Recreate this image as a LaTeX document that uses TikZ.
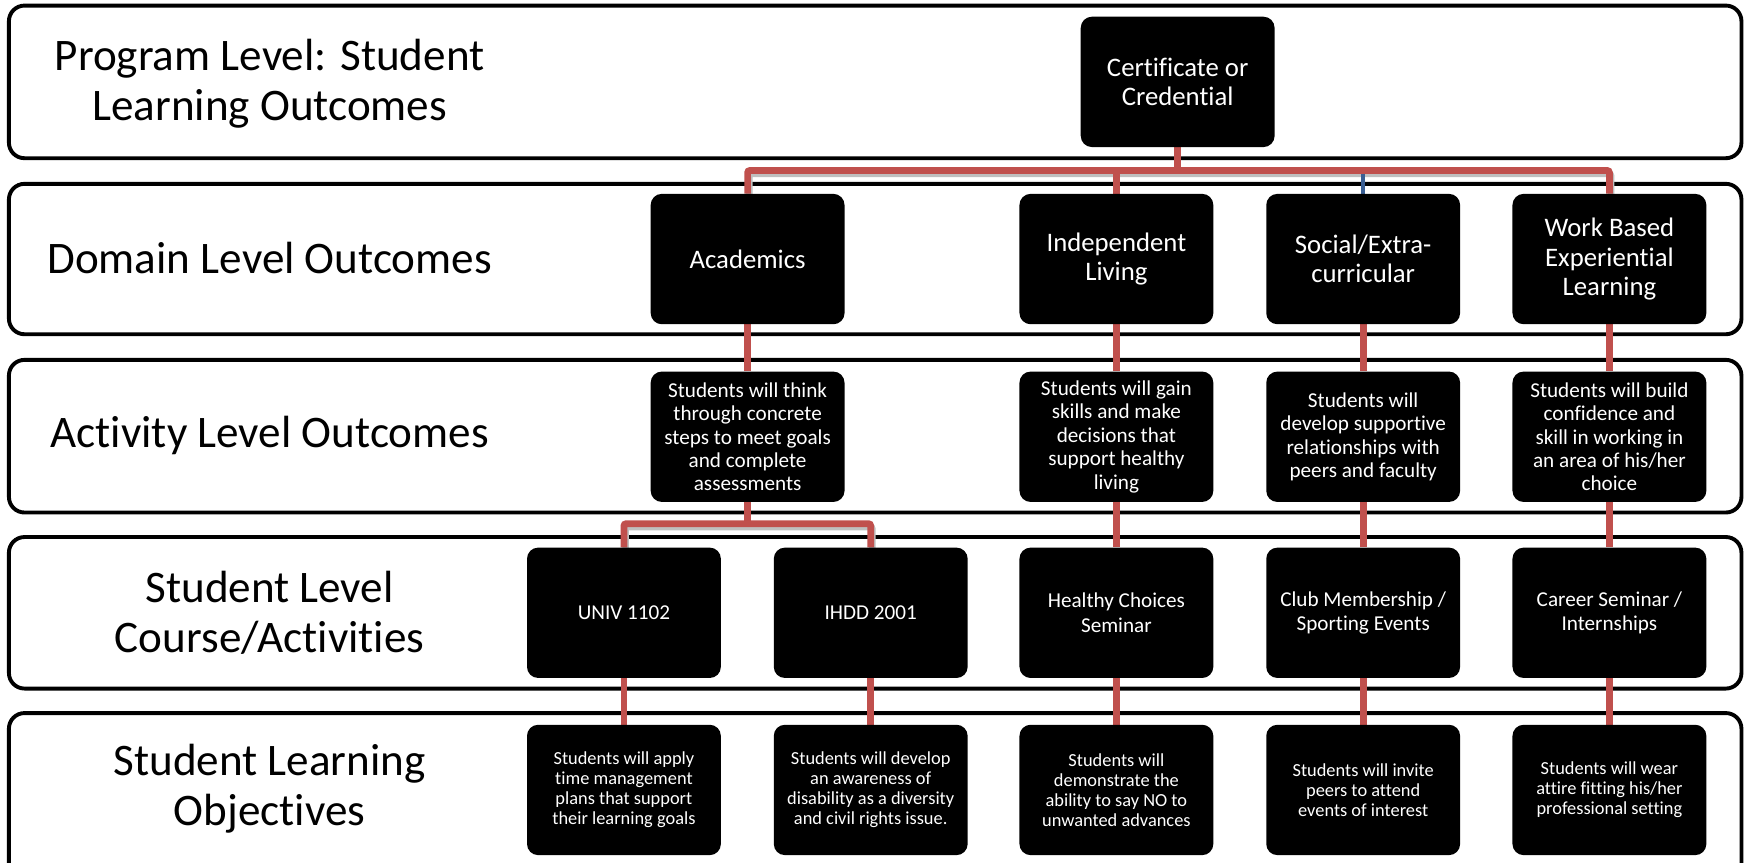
\documentclass[tikz,border=0pt]{standalone}
\usepackage{fontspec}
\setmainfont{Carlito}[Ligatures={NoCommon}]
\definecolor{connred}{HTML}{C0504D}
\definecolor{connblue}{HTML}{3A5F94}
\pgfdeclarelayer{bg}
\pgfdeclarelayer{mid}
\pgfsetlayers{bg,mid,main}
\begin{document}
\begin{tikzpicture}[x=1pt,y=-1pt,
  band/.style={draw=black, line width=3.5pt, rounded corners=14pt, fill=white},
  blk/.style={fill=black, rounded corners=10pt, minimum width=174pt, minimum height=117pt, text=white, align=center, inner sep=2pt},
  lbl/.style={align=center, font=\fontsize{40.5}{45}\selectfont},
  fbig/.style={font=\fontsize{24}{26.5}\selectfont},
  fmid/.style={font=\fontsize{19}{21}\selectfont},
  fmidb/.style={font=\fontsize{19}{22}\selectfont},
  fsml/.style={font=\fontsize{16.5}{18}\selectfont},
  conn/.style={draw=connred, line width=6pt, rounded corners=2pt},
  shade/.style={draw=black!25, line width=6pt, rounded corners=2pt, transform canvas={shift={(1.5pt,-3pt)}}},
  blueconn/.style={draw=connblue, line width=4pt}
]
\useasboundingbox (0,0) rectangle (1568,774);

% bands
\begin{pgfonlayer}{bg}
\draw[band] (8,5) rectangle (1563,142);
\draw[band] (8,165) rectangle (1563,300);
\draw[band] (8,323) rectangle (1563,460);
\draw[band] (8,482) rectangle (1563,618);
\draw[band] (8,640) rectangle (1563,792);
\end{pgfonlayer}

% level labels
\node[lbl] (l1) at (242,75) {Program Level: Student\\Learning Outcomes};
\node[lbl] (l2) at (242,232) {Domain Level Outcomes};
\node[lbl] (l3) at (242,391) {Activity Level Outcomes};
\node[lbl] (l4) at (242,550) {Student Level\\Course/Activities};
\node[lbl] (l5) at (242,708) {Student Learning\\Objectives};

% bus coordinates
\coordinate (bus1) at (0,153);
\coordinate (bus2) at (0,470);

% boxes
\node[blk,fbig] (cert) at (1057,73.5) {Certificate or\\Credential};
\node[blk,fbig] (acad) at (671,232.5) {Academics};
\node[blk,fbig] (indep) at (1002,232.5) {Independent\\Living};
\node[blk,fbig] (soc) at (1223.5,232.5) {Social/Extra-\\curricular};
\node[blk,fbig] (work) at (1444.5,232.5) {Work Based\\Experiential\\Learning};
\node[blk,fmid] (acA) at (671,392) {Students will think\\through concrete\\steps to meet goals\\and complete\\assessments};
\node[blk,fmid] (inA) at (1002,392) {Students will gain\\skills and make\\decisions that\\support healthy\\living};
\node[blk,fmid] (soA) at (1223.5,392) {Students will\\develop supportive\\relationships with\\peers and faculty};
\node[blk,fmid] (woA) at (1444.5,392) {Students will build\\confidence and\\skill in working in\\an area of his/her\\choice};
\node[blk,fmidb] (univ) at (560,550) {UNIV 1102};
\node[blk,fmidb] (ihdd) at (781.5,550) {IHDD 2001};
\node[blk,fmidb] (heal) at (1002,550) {Healthy Choices\\Seminar};
\node[blk,fmidb] (club) at (1223.5,550) {Club Membership /\\Sporting Events};
\node[blk,fmidb] (car) at (1444.5,550) {Career Seminar /\\Internships};
\node[blk,fsml] (o1) at (560,709) {Students will apply\\time management\\plans that support\\their learning goals};
\node[blk,fsml] (o2) at (781.5,709) {Students will develop\\an awareness of\\disability as a diversity\\and civil rights issue.};
\node[blk,fsml] (o3) at (1002,709) {Students will\\demonstrate the\\ability to say NO to\\unwanted advances};
\node[blk,fsml] (o4) at (1223.5,709) {Students will invite\\peers to attend\\events of interest};
\node[blk,fsml] (o5) at (1444.5,709) {Students will wear\\attire fitting his/her\\professional setting};

\begin{pgfonlayer}{mid}
% connector shadows
\draw[shade] (acad.north) -- (acad.north |- bus1) -- (work.north |- bus1) -- (work.north);
\draw[shade] (univ.north) -- (univ.north |- bus2) -- (ihdd.north |- bus2) -- (ihdd.north);

% connectors
\draw[conn] (acad.north) -- (acad.north |- bus1) -- (work.north |- bus1) -- (work.north);
\draw[conn] (cert.south) -- (cert.south |- bus1);
\draw[conn] (indep.north) -- (indep.north |- bus1);
\draw[blueconn] (soc.north) -- ([yshift=-3pt]soc.north |- bus1);
\draw[conn] (acad) -- (acA);
\draw[conn] (indep) -- (inA);
\draw[conn] (soc) -- (soA);
\draw[conn] (work) -- (woA);
\draw[conn] (acA.south) -- (acA.south |- bus2);
\draw[conn] (univ.north) -- (univ.north |- bus2) -- (ihdd.north |- bus2) -- (ihdd.north);
\draw[conn] (inA) -- (heal);
\draw[conn] (soA) -- (club);
\draw[conn] (woA) -- (car);
\draw[conn] (univ) -- (o1);
\draw[conn] (ihdd) -- (o2);
\draw[conn] (heal) -- (o3);
\draw[conn] (club) -- (o4);
\draw[conn] (car) -- (o5);
\end{pgfonlayer}
\end{tikzpicture}
\end{document}
